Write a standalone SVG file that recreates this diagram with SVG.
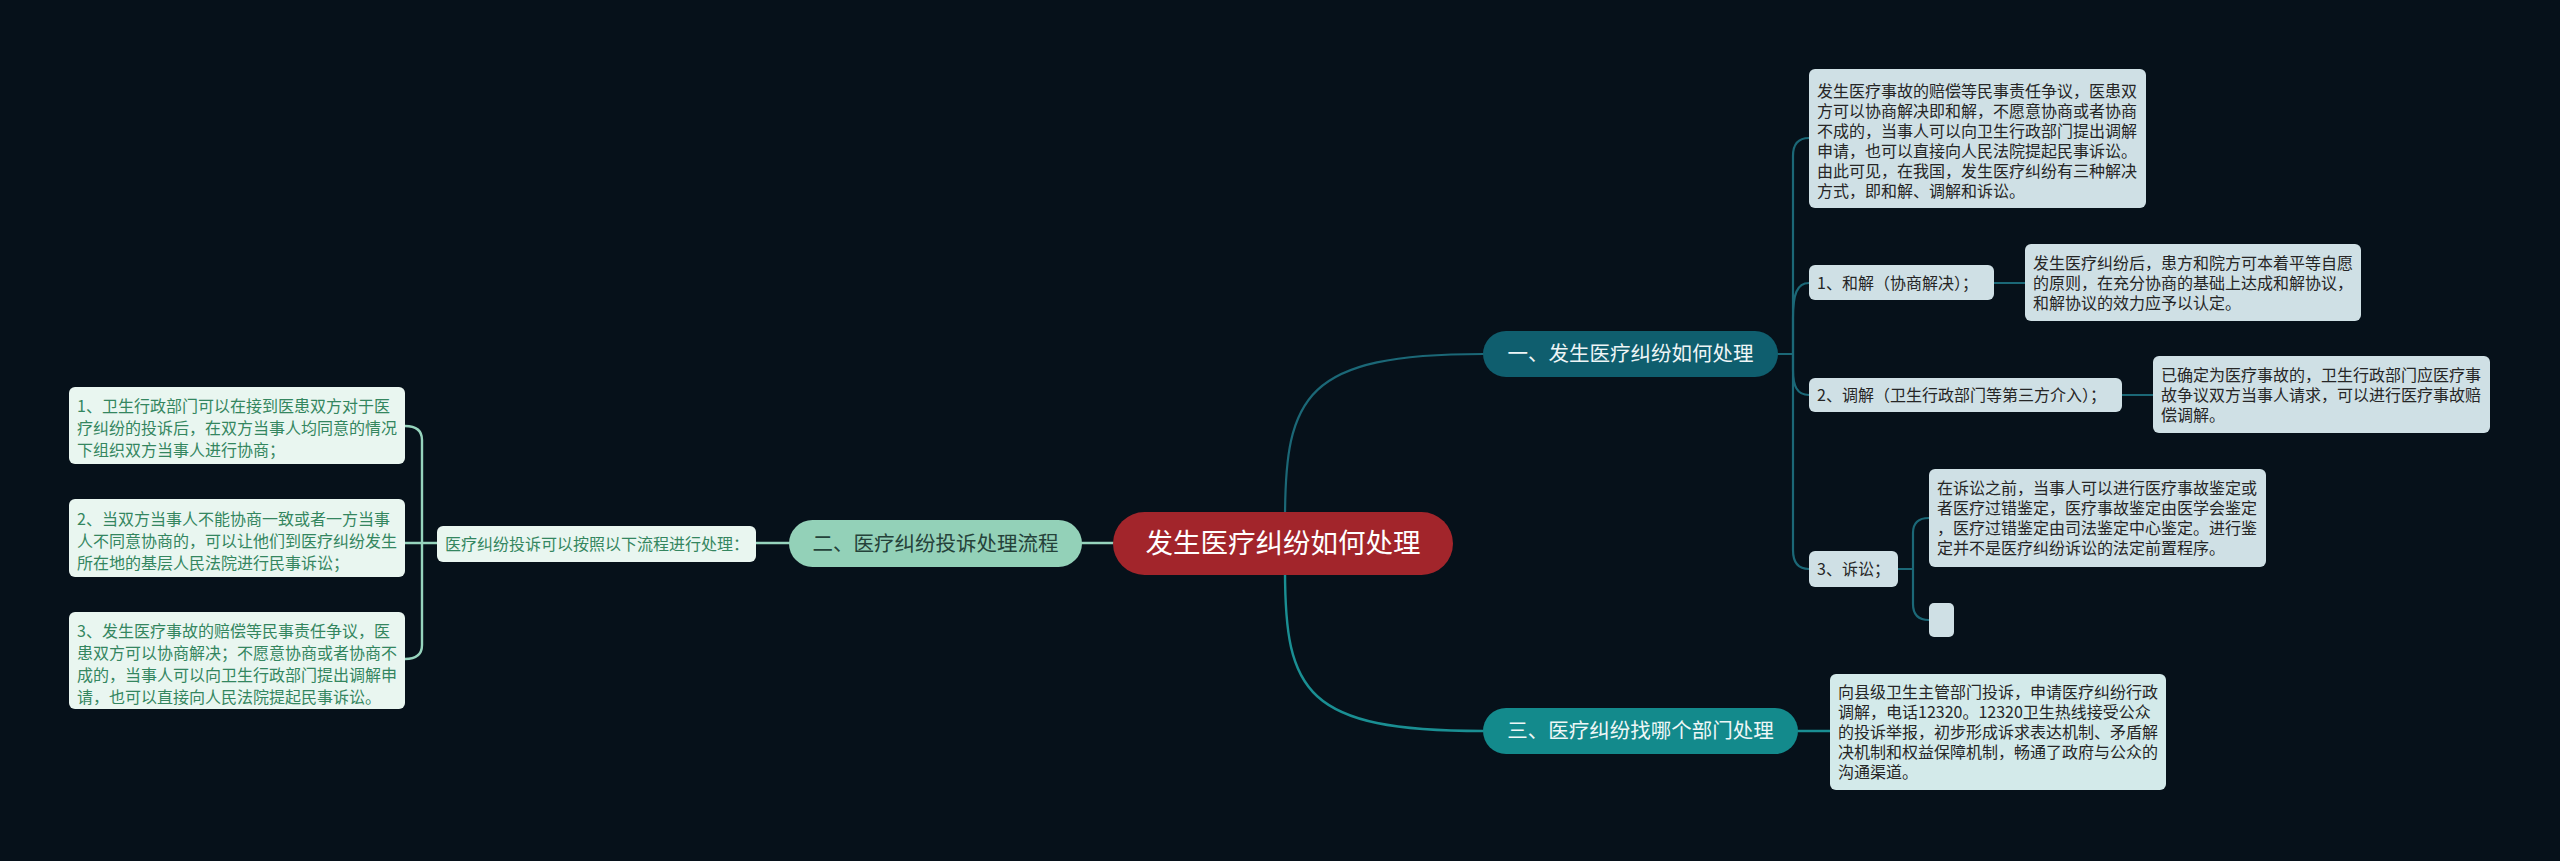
<svg xmlns="http://www.w3.org/2000/svg" width="2560" height="861" viewBox="0 0 2560 861">
<style>
text{font-family:"Noto Sans CJK SC","Noto Sans",sans-serif;}
.c{fill:none;stroke-linecap:round;stroke-linejoin:round;}
.t1{stroke:#1b6877;stroke-width:2.2;}
.t3{stroke:#1a8f93;stroke-width:2.4;}
.g{stroke:#96d4bd;stroke-width:2.4;}
.rbox{fill:#cfe0e5;}
.rt{font-size:16px;fill:#262626;}
.lbox{fill:#e9f6f0;}
.lt{font-size:16px;fill:#34865f;}
</style>
<rect width="2560" height="861" fill="#06111a"/>
<g id="connectors">
<path class="c t1" d="M1285 520 C1285 395 1305 354 1483 354"/>
<path class="c t3" d="M1285 570 C1285 692 1305 731 1483 731"/>
<path class="c g" d="M1113 543 H1082"/>
<path class="c g" d="M789 543 H756"/>
<path class="c g" d="M437 543 H405"/>
<path class="c g" d="M422 543 V440 Q422 426 405 426"/>
<path class="c g" d="M422 543 V645 Q422 659 405 659"/>
<path class="c t1" d="M1778 354 H1793 V156 Q1793 138 1809 138"/>
<path class="c t1" d="M1778 354 H1793 V318 C1793 294 1797 283 1809 283"/>
<path class="c t1" d="M1778 354 H1793 V370 C1793 386 1797 395 1809 395"/>
<path class="c t1" d="M1778 354 H1793 V550 Q1793 569 1809 569"/>
<path class="c t1" d="M1994 283 H2025"/>
<path class="c t1" d="M2122 395 H2153"/>
<path class="c t1" d="M1898 569 H1913"/>
<path class="c t1" d="M1913 569 V533 Q1913 518 1929 518"/>
<path class="c t1" d="M1913 569 V604 Q1913 620 1929 620"/>
<path class="c t3" d="M1798 731 H1830"/>
</g>
<g id="center">
<rect x="1113" y="512" width="340" height="63" rx="31.5" fill="#a2252b"/>
<text x="1283" y="553" font-size="27.5" fill="#ffffff" text-anchor="middle">发生医疗纠纷如何处理</text>
</g>
<g id="branch1">
<rect x="1483" y="331" width="295" height="46" rx="23" fill="#0f5e6e"/>
<text x="1630.5" y="361" font-size="20.5" fill="#eef5f6" text-anchor="middle">一、发生医疗纠纷如何处理</text>
</g>
<g id="branch2">
<rect x="789" y="520" width="293" height="47" rx="23.5" fill="#93d1b8"/>
<text x="935.5" y="550.5" font-size="20.5" fill="#25423a" text-anchor="middle">二、医疗纠纷投诉处理流程</text>
</g>
<g id="branch3">
<rect x="1483" y="708" width="315" height="46" rx="23" fill="#138a8c"/>
<text x="1640.5" y="738" font-size="20.5" fill="#eef7f7" text-anchor="middle">三、医疗纠纷找哪个部门处理</text>
</g>
<g id="b1-summary">
<rect class="rbox" x="1809" y="69" width="337" height="139" rx="6"/>
<text class="rt"><tspan x="1817" y="97">发生医疗事故的赔偿等民事责任争议，医患双</tspan><tspan x="1817" y="117">方可以协商解决即和解，不愿意协商或者协商</tspan><tspan x="1817" y="137">不成的，当事人可以向卫生行政部门提出调解</tspan><tspan x="1817" y="157">申请，也可以直接向人民法院提起民事诉讼。</tspan><tspan x="1817" y="177">由此可见，在我国，发生医疗纠纷有三种解决</tspan><tspan x="1817" y="197">方式，即和解、调解和诉讼。</tspan></text>
</g>
<g id="b1-item1">
<rect class="rbox" x="1809" y="265" width="185" height="35" rx="6"/>
<text class="rt" x="1817" y="288.5">1、和解（协商解决）；</text>
</g>
<g id="b1-item1-detail">
<rect class="rbox" x="2025" y="244" width="336" height="77" rx="6"/>
<text class="rt"><tspan x="2033" y="269">发生医疗纠纷后，患方和院方可本着平等自愿</tspan><tspan x="2033" y="289">的原则，在充分协商的基础上达成和解协议，</tspan><tspan x="2033" y="309">和解协议的效力应予以认定。</tspan></text>
</g>
<g id="b1-item2">
<rect class="rbox" x="1809" y="378" width="313" height="34" rx="6"/>
<text class="rt" x="1817" y="400.5">2、调解（卫生行政部门等第三方介入）；</text>
</g>
<g id="b1-item2-detail">
<rect class="rbox" x="2153" y="356" width="337" height="77" rx="6"/>
<text class="rt"><tspan x="2161" y="381">已确定为医疗事故的，卫生行政部门应医疗事</tspan><tspan x="2161" y="401">故争议双方当事人请求，可以进行医疗事故赔</tspan><tspan x="2161" y="421">偿调解。</tspan></text>
</g>
<g id="b1-item3">
<rect class="rbox" x="1809" y="551" width="89" height="36" rx="6"/>
<text class="rt" x="1817" y="574.5">3、诉讼；</text>
</g>
<g id="b1-item3-detail">
<rect class="rbox" x="1929" y="469" width="337" height="98" rx="6"/>
<text class="rt"><tspan x="1937" y="494">在诉讼之前，当事人可以进行医疗事故鉴定或</tspan><tspan x="1937" y="514">者医疗过错鉴定，医疗事故鉴定由医学会鉴定</tspan><tspan x="1937" y="534">，医疗过错鉴定由司法鉴定中心鉴定。进行鉴</tspan><tspan x="1937" y="554">定并不是医疗纠纷诉讼的法定前置程序。</tspan></text>
</g>
<g id="b1-item3-empty">
<rect class="rbox" x="1929" y="603" width="25" height="34" rx="5"/>
</g>
<g id="b3-detail">
<rect x="1830" y="674" width="336" height="116" rx="6" fill="#d3eaea"/>
<text class="rt"><tspan x="1838" y="698">向县级卫生主管部门投诉，申请医疗纠纷行政</tspan><tspan x="1838" y="718">调解，电话12320。12320卫生热线接受公众</tspan><tspan x="1838" y="738">的投诉举报，初步形成诉求表达机制、矛盾解</tspan><tspan x="1838" y="758">决机制和权益保障机制，畅通了政府与公众的</tspan><tspan x="1838" y="778">沟通渠道。</tspan></text>
</g>
<g id="b2-label">
<rect class="lbox" x="437" y="526" width="319" height="36" rx="6"/>
<text class="lt" x="445" y="550">医疗纠纷投诉可以按照以下流程进行处理：</text>
</g>
<g id="b2-step1">
<rect class="lbox" x="69" y="387" width="336" height="77" rx="6"/>
<text class="lt"><tspan x="77" y="412">1、卫生行政部门可以在接到医患双方对于医</tspan><tspan x="77" y="434">疗纠纷的投诉后，在双方当事人均同意的情况</tspan><tspan x="77" y="456">下组织双方当事人进行协商；</tspan></text>
</g>
<g id="b2-step2">
<rect class="lbox" x="69" y="499" width="336" height="78" rx="6"/>
<text class="lt"><tspan x="77" y="525">2、当双方当事人不能协商一致或者一方当事</tspan><tspan x="77" y="547">人不同意协商的，可以让他们到医疗纠纷发生</tspan><tspan x="77" y="569">所在地的基层人民法院进行民事诉讼；</tspan></text>
</g>
<g id="b2-step3">
<rect class="lbox" x="69" y="612" width="336" height="97" rx="6"/>
<text class="lt"><tspan x="77" y="637">3、发生医疗事故的赔偿等民事责任争议，医</tspan><tspan x="77" y="659">患双方可以协商解决；不愿意协商或者协商不</tspan><tspan x="77" y="681">成的，当事人可以向卫生行政部门提出调解申</tspan><tspan x="77" y="703">请，也可以直接向人民法院提起民事诉讼。</tspan></text>
</g>
</svg>
